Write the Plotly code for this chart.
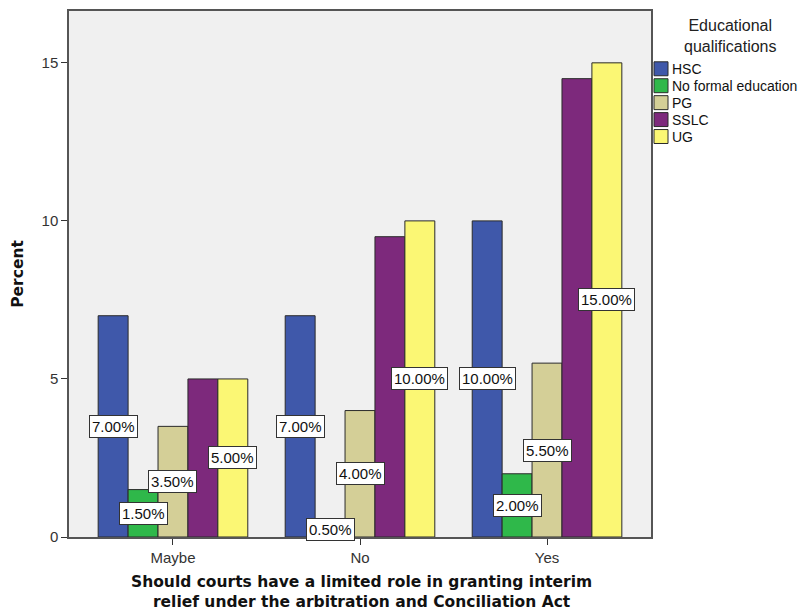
import plotly.graph_objects as go

categories = ["Maybe", "No", "Yes"]
series_names = ["HSC", "No formal education", "PG", "SSLC", "UG"]
hsc = [7.0, 7.0, 10.0]
no_formal = [1.5, 0.5, 2.0]
pg = [3.5, 4.0, 5.5]
sslc = [5.0, 9.5, 14.5]
ug = [5.0, 10.0, 15.0]
series_values = [hsc, no_formal, pg, sslc, ug]
show_label = [True, True, True, False, True]
colors = ["#3f58aa", "#2fb84a", "#d4cf97", "#7d297c", "#fbf774"]
y_ticks = [0, 5, 10, 15]
legend_title = "Educational<br>qualifications"

W, H = 800, 607
ML, MR, MT, MB = 61, 157, 1, 78
PW, PH = W - ML - MR, H - MT - MB


def px(fx):
    return (fx - ML) / PW


def py(fy):
    return (H - MB - fy) / PH


fig = go.Figure()
xs = list(range(len(categories)))
for name, vals, col in zip(series_names, series_values, colors):
    fig.add_trace(go.Bar(
        x=xs, y=vals, name=name,
        marker=dict(color=col, line=dict(color="#2a2a2a", width=1)),
        hoverinfo="skip",
    ))

n = len(series_names)
group_w = 0.8
bw = group_w / n
annotations = []
shapes = []
for i, (vals, show) in enumerate(zip(series_values, show_label)):
    if not show:
        continue
    for j, v in enumerate(vals):
        xc = xs[j] - group_w / 2 + bw * (i + 0.5)
        annotations.append(dict(
            x=xc, y=v / 2, xref="x", yref="y",
            text=f"{v:.2f}%", showarrow=False,
            font=dict(family="Liberation Sans, Arial", size=15, color="#111111"),
            bgcolor="white", bordercolor="#333333", borderwidth=1, borderpad=2,
        ))

# custom legend
annotations.append(dict(
    xref="paper", yref="paper", x=px(722), y=py(26), xanchor="center", yanchor="middle",
    text=legend_title, showarrow=False,
    font=dict(family="Liberation Sans, Arial", size=16, color="#222222")))
for k, (name, col) in enumerate(zip(series_names, colors)):
    cy = 59 + 17 * k
    shapes.append(dict(
        type="rect", xref="paper", yref="paper",
        x0=px(646), x1=px(660), y0=py(cy - 7), y1=py(cy + 7),
        fillcolor=col, line=dict(color="#2a2a2a", width=1)))
    annotations.append(dict(
        xref="paper", yref="paper", x=px(662), y=py(cy), xanchor="left", yanchor="middle",
        text=name, showarrow=False,
        font=dict(family="Liberation Sans, Arial", size=14, color="#111111")))

annotations.append(dict(
    xref="paper", yref="paper", x=px(353), y=py(584), xanchor="center", yanchor="middle",
    text="<b>Should courts have a limited role in granting interim<br>relief under the arbitration and Conciliation Act</b>",
    showarrow=False, font=dict(family="DejaVu Sans, Verdana", size=15.5, color="#111111")))

fig.update_layout(
    width=W, height=H,
    margin=dict(l=ML, r=MR, t=MT, b=MB),
    paper_bgcolor="white", plot_bgcolor="#f0f0f0",
    barmode="group", bargap=0.2, bargroupgap=0,
    font=dict(family="Liberation Sans, Arial", size=12, color="#222222"),
    xaxis=dict(
        tickvals=xs, ticktext=categories, range=[-0.556, 2.556],
        showgrid=False, zeroline=False, showline=True, mirror=True,
        linecolor="#555555", linewidth=1.5,
        ticks="outside", ticklen=6, tickcolor="#333333",
        tickfont=dict(size=15, color="#333333"),
    ),
    yaxis=dict(
        range=[0, 16.64], tickvals=y_ticks,
        showgrid=False, zeroline=False, showline=True, mirror=True,
        linecolor="#555555", linewidth=1.5,
        ticks="outside", ticklen=6, tickcolor="#333333",
        tickfont=dict(size=15, color="#333333"),
        title=dict(text="<b>Percent</b>", font=dict(family="DejaVu Sans, Verdana", size=15.5, color="#111111"), standoff=14),
    ),
    showlegend=False,
    annotations=annotations,
    shapes=shapes,
)

fig.write_html("out.html")
